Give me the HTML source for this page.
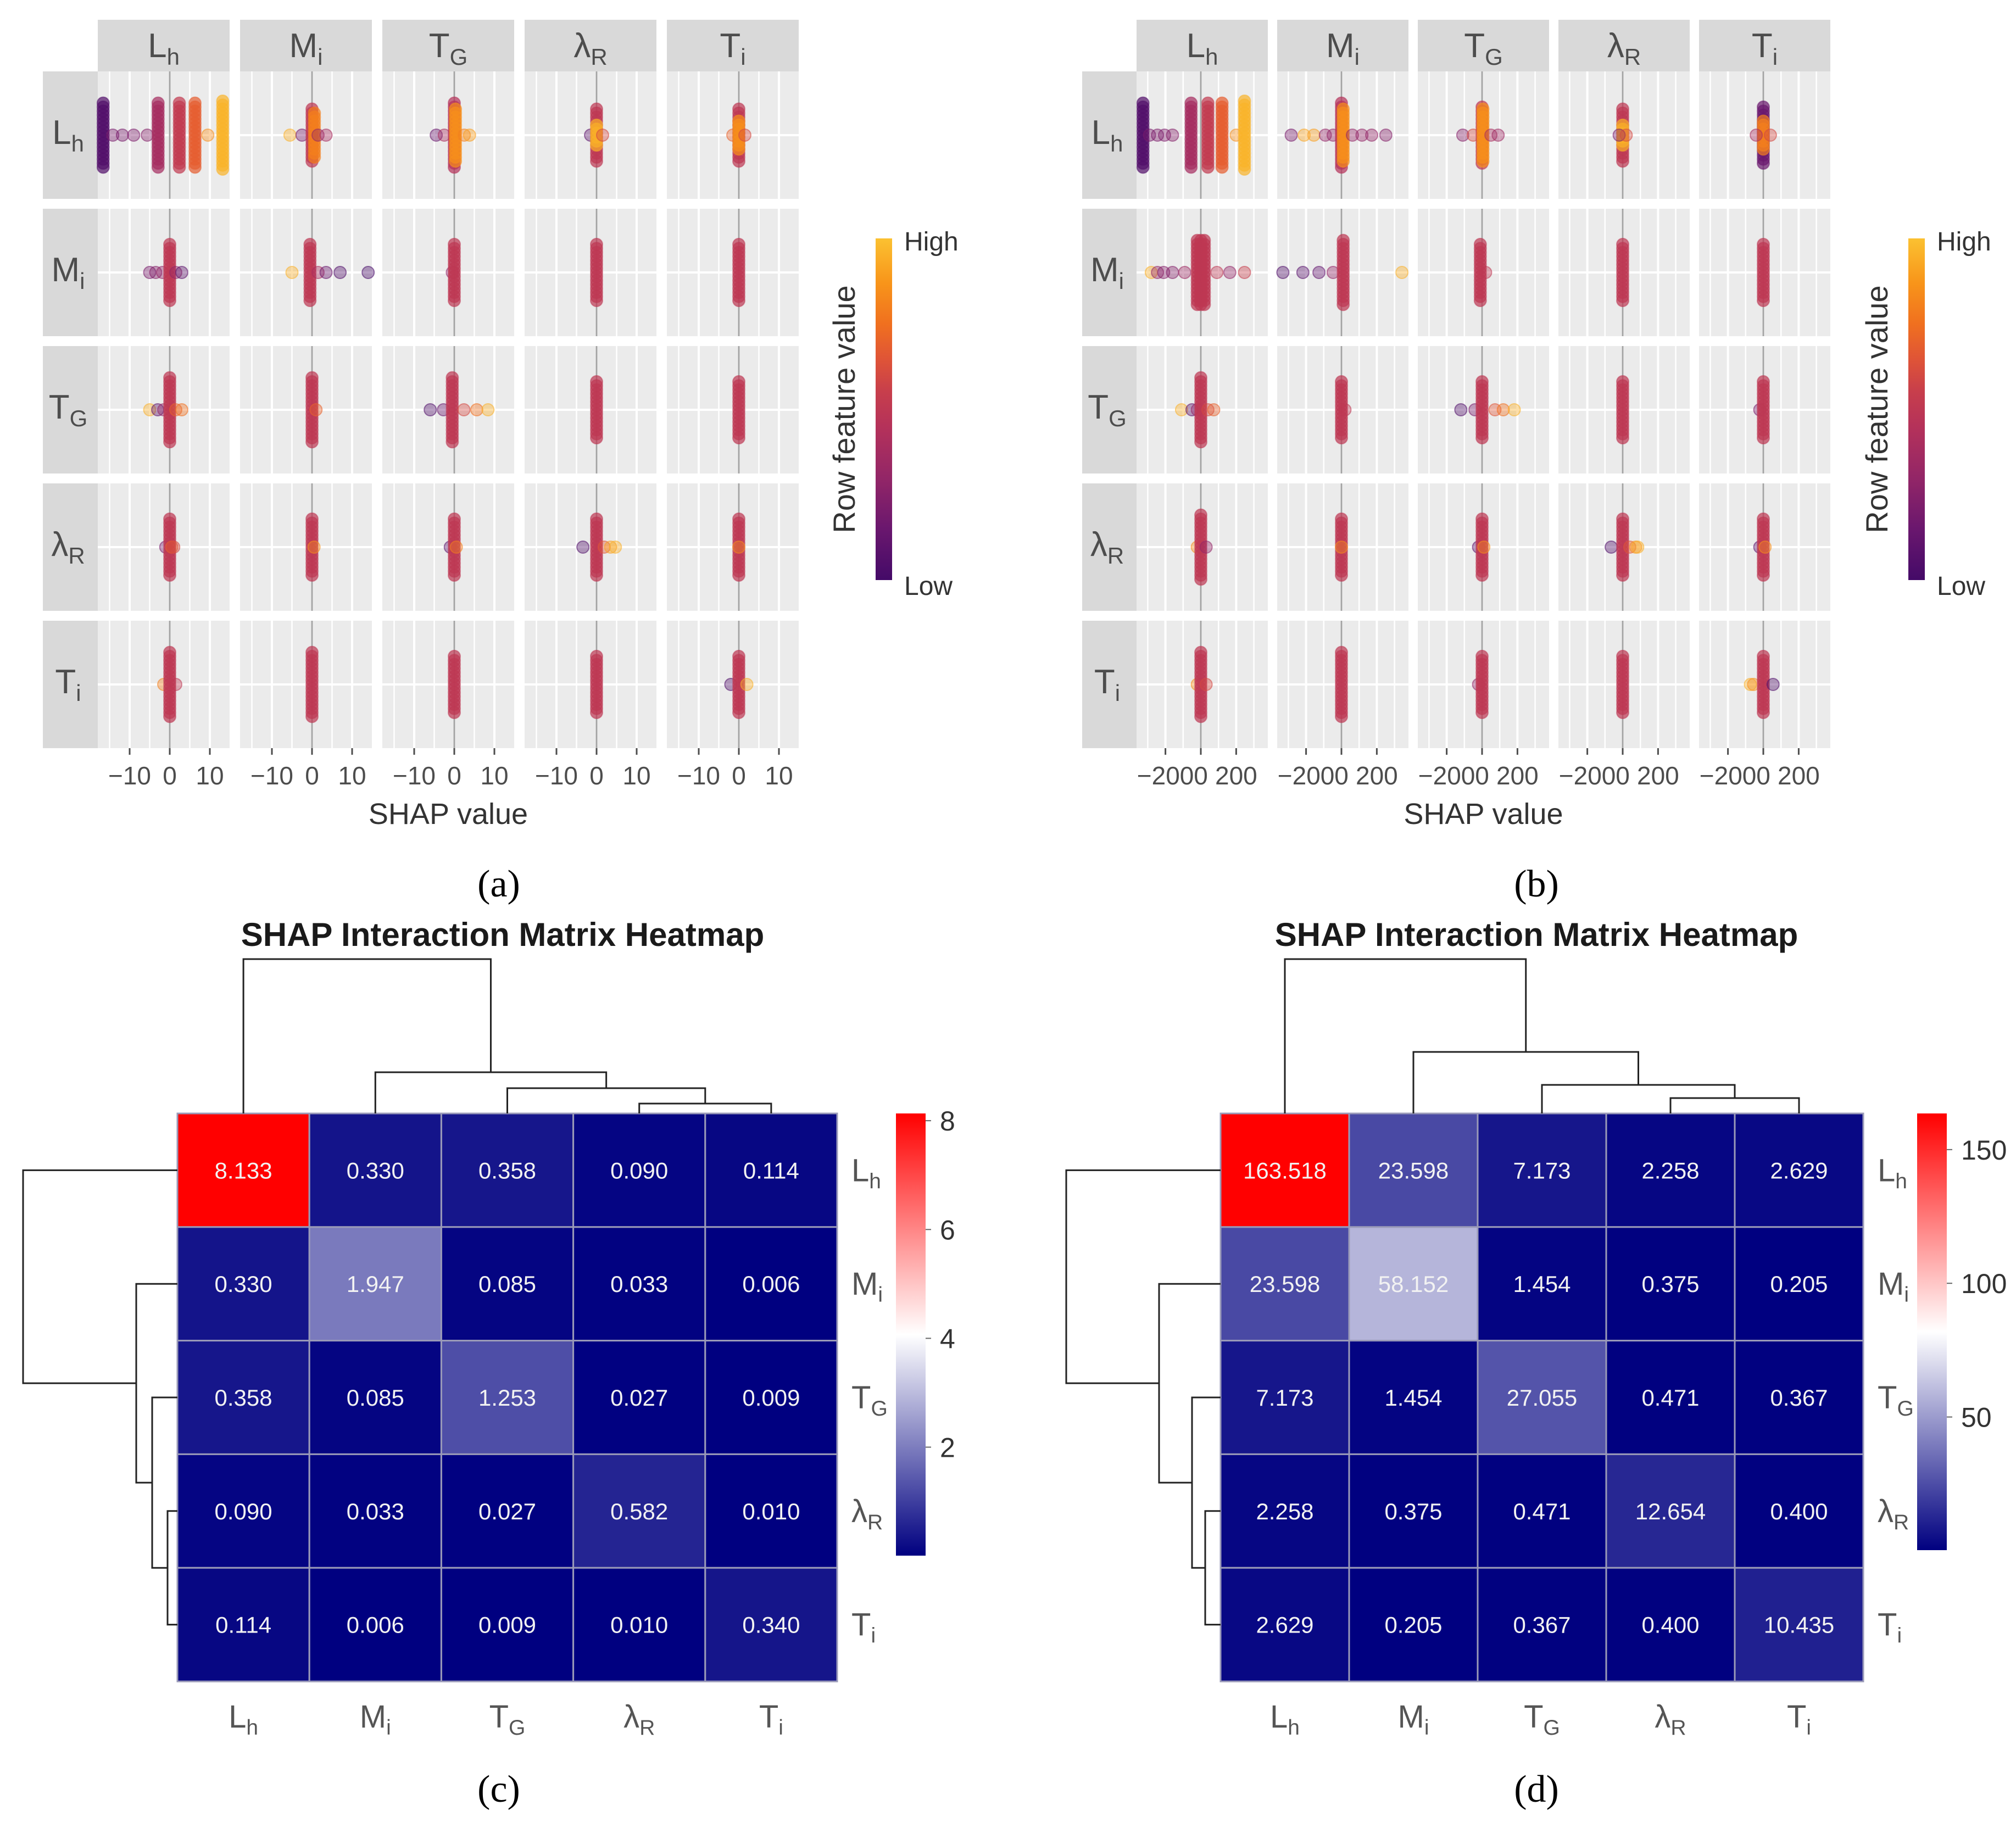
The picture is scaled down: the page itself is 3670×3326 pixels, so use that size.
<!DOCTYPE html>
<html><head><meta charset="utf-8"><title>SHAP interaction plots</title>
<style>
html,body{margin:0;padding:0;background:#fff;}
svg{display:block;font-family:"Liberation Sans",sans-serif;}
</style></head>
<body>
<svg id="fig" width="3670" height="3326" viewBox="0 0 3670 3326" xmlns="http://www.w3.org/2000/svg">
<defs>
<linearGradient id="infernoGrad" x1="0" y1="1" x2="0" y2="0">
<stop offset="0" stop-color="#440a68"/><stop offset="0.15" stop-color="#6a176e"/><stop offset="0.3" stop-color="#932667"/><stop offset="0.45" stop-color="#b5325a"/><stop offset="0.55" stop-color="#c73e4c"/><stop offset="0.65" stop-color="#e05536"/><stop offset="0.75" stop-color="#f0701f"/><stop offset="0.87" stop-color="#f8951a"/><stop offset="1" stop-color="#fbc131"/>
</linearGradient>
<linearGradient id="bwrGrad" x1="0" y1="1" x2="0" y2="0">
<stop offset="0" stop-color="#000080"/><stop offset="0.5" stop-color="#ffffff"/><stop offset="1" stop-color="#ff0000"/>
</linearGradient>
</defs>
<rect x="0" y="0" width="3670" height="3326" fill="#fff"/>
</svg>
<script>
// ---------- data ----------
const featMain = ['L','M','T','λ','T'];
const featSub = ['h','i','G','R','i'];
// beeswarm clusters per panel (row-major: row feature, column feature): [shap, featureValue(0..1), count]
const swarmA = [
 [[-16.6,0.05,11],[-14.2,0.2,1],[-11.8,0.2,1],[-9,0.22,1],[-5.6,0.25,1],[-2.9,0.38,11],[2.4,0.52,11],[6.3,0.68,11],[9.5,0.85,1],[13.2,0.96,12]],
 [[-5.5,0.95,1],[-2.5,0.2,1],[0,0.5,9],[0.6,0.8,8],[1.5,0.3,1],[3.5,0.4,1]],
 [[-4.5,0.15,1],[-2.5,0.4,1],[0,0.45,11],[0.3,0.85,9],[2.5,0.8,1],[3.8,0.9,1]],
 [[-1.5,0.1,1],[0,0.5,9],[0,0.95,4],[1.5,0.6,1]],
 [[-1.5,0.7,1],[0,0.5,9],[0,0.85,5],[1.5,0.6,1]],
 [[-5,0.2,1],[-3.5,0.25,1],[-1.8,0.3,1],[0,0.5,10],[1.5,0.3,1],[3,0.1,1]],
 [[-5,0.95,1],[-0.5,0.5,10],[1.5,0.4,1],[3.5,0.15,1],[7,0.05,1],[14,0.02,1]],
 [[-0.5,0.3,1],[0,0.5,10]],
 [[0,0.5,10]],
 [[0,0.5,10]],
 [[-5,0.95,1],[-3,0.1,1],[-1.5,0.3,1],[0,0.5,11],[1.5,0.7,1],[3,0.75,1]],
 [[0,0.5,11],[1,0.7,1]],
 [[-6,0.05,1],[-2.7,0.15,1],[-0.5,0.5,11],[2.4,0.6,1],[5.6,0.75,1],[8.4,0.95,1]],
 [[0,0.5,10]],
 [[0,0.5,10]],
 [[-1,0.2,1],[0,0.5,10],[0.5,0.7,1],[1,0.6,1]],
 [[0,0.5,10],[0.5,0.85,1]],
 [[-1,0.1,1],[0,0.5,10],[0.5,0.8,1]],
 [[-3.4,0.05,1],[0,0.5,10],[1.9,0.65,1],[3.5,0.9,1],[4.7,0.95,1]],
 [[0,0.5,10],[0,0.85,1]],
 [[-1.5,0.8,1],[0,0.5,11],[1.5,0.5,1]],
 [[0,0.5,11]],
 [[0,0.5,10]],
 [[0,0.5,10]],
 [[-2,0.05,1],[0,0.5,10],[2,0.95,1]]
];
const swarmB = [
 [[-327,0.05,11],[-290,0.2,1],[-245,0.22,1],[-205,0.22,1],[-160,0.25,1],[-55,0.38,11],[40,0.52,11],[120,0.68,11],[200,0.85,1],[247,0.96,12]],
 [[-284,0.2,1],[-211,0.92,1],[-156,0.9,1],[-91,0.3,1],[-47,0.3,1],[0,0.45,11],[10,0.85,9],[62,0.3,1],[116,0.3,1],[171,0.3,1],[251,0.25,1]],
 [[-109,0.25,1],[-50,0.6,1],[0,0.5,10],[5,0.85,9],[50,0.4,1],[91,0.35,1]],
 [[0,0.5,9],[0,0.95,4],[-20,0.2,1],[20,0.6,1]],
 [[0,0.15,10],[0,0.8,5],[-40,0.4,1],[40,0.6,1]],
 [[-280,0.95,1],[-245,0.3,1],[-210,0.25,1],[-160,0.25,1],[-91,0.35,1],[0,0.5,11],[-20,0.5,11],[20,0.5,11],[91,0.5,1],[164,0.3,1],[247,0.55,1]],
 [[-331,0.05,1],[-218,0.08,1],[-127,0.12,1],[-47,0.3,1],[10,0.5,11],[342,0.95,1]],
 [[-10,0.5,10],[20,0.5,1]],
 [[0,0.5,10]],
 [[0,0.5,10]],
 [[-109,0.95,1],[-50,0.1,1],[-20,0.3,1],[0,0.5,11],[40,0.6,1],[73,0.7,1]],
 [[0,0.5,10],[20,0.5,1]],
 [[-120,0.05,1],[-40,0.2,1],[0,0.5,10],[73,0.65,1],[120,0.75,1],[182,0.95,1]],
 [[0,0.5,10]],
 [[-20,0.2,1],[0,0.5,10]],
 [[-20,0.85,1],[0,0.5,11],[30,0.3,1]],
 [[0,0.5,10],[0,0.85,1]],
 [[-20,0.1,1],[0,0.5,10],[10,0.85,1]],
 [[-65,0.05,1],[0,0.5,10],[40,0.65,1],[73,0.85,1],[85,0.95,1]],
 [[-20,0.1,1],[0,0.5,10],[10,0.85,1]],
 [[-20,0.85,1],[0,0.5,11],[30,0.6,1]],
 [[0,0.5,11]],
 [[-20,0.3,1],[0,0.5,10]],
 [[0,0.5,10]],
 [[-73,0.95,1],[-55,0.85,1],[0,0.5,10],[55,0.05,1]]
];
const ticksA = [-10,0,10];
const tickLabelsA = ['−10','0','10'];
const gridA = [-15,-10,-5,0,5,10];
const ticksB = [-200,0,200];
const tickLabelsB = ['−200','0','200'];
const gridB = [-300,-200,-100,0,100,200,300];

const matC = [
 [8.133,0.330,0.358,0.090,0.114],
 [0.330,1.947,0.085,0.033,0.006],
 [0.358,0.085,1.253,0.027,0.009],
 [0.090,0.033,0.027,0.582,0.010],
 [0.114,0.006,0.009,0.010,0.340]
];
const matD = [
 [163.518,23.598,7.173,2.258,2.629],
 [23.598,58.152,1.454,0.375,0.205],
 [7.173,1.454,27.055,0.471,0.367],
 [2.258,0.375,0.471,12.654,0.400],
 [2.629,0.205,0.367,0.400,10.435]
];
const cbarTicksC = [2,4,6,8];
const cbarTicksD = [50,100,150];
// dendrogram merge heights: (λR,Ti), (TG,·), (Mi,·), (Lh,·)
const dendC = [18,46,75,281];
const dendD = [28,52,112,281];

// ---------- helpers ----------
const NS = 'http://www.w3.org/2000/svg';
const svg = document.getElementById('fig');
function mk(tag, attrs, parent){
  const e = document.createElementNS(NS, tag);
  for (const k in attrs) e.setAttribute(k, attrs[k]);
  (parent || svg).appendChild(e);
  return e;
}
function hex2rgb(h){return [parseInt(h.substr(1,2),16),parseInt(h.substr(3,2),16),parseInt(h.substr(5,2),16)];}
const infStops = [[0,'#440a68'],[0.15,'#6a176e'],[0.3,'#932667'],[0.45,'#b5325a'],[0.55,'#c73e4c'],[0.65,'#e05536'],[0.75,'#f0701f'],[0.87,'#f8951a'],[1,'#fbc131']];
function inferno(t){
  t = Math.max(0, Math.min(1, t));
  for (let i=1;i<infStops.length;i++){
    if (t <= infStops[i][0]){
      const a = infStops[i-1], b = infStops[i];
      const f = (t-a[0])/(b[0]-a[0]);
      const ca = hex2rgb(a[1]), cb = hex2rgb(b[1]);
      return 'rgb('+ca.map((v,j)=>Math.round(v+(cb[j]-v)*f)).join(',')+')';
    }
  }
  return infStops[infStops.length-1][1];
}
function bwr(t){
  t = Math.max(0, Math.min(1, t));
  let r,g,b;
  if (t < 0.5){ const f=t/0.5; r=255*f; g=255*f; b=128+127*f; }
  else { const f=(t-0.5)/0.5; r=255; g=255*(1-f); b=255*(1-f); }
  return 'rgb('+Math.round(r)+','+Math.round(g)+','+Math.round(b)+')';
}
function labelWithSub(parent, x, y, main, sub, size, fill, anchor){
  const t = mk('text', {x:x, y:y, 'font-size':size, fill:fill, 'text-anchor':anchor||'middle'}, parent);
  const a = mk('tspan', {}, t); a.textContent = main;
  const b = mk('tspan', {'font-size':Math.round(size*0.68), dy:Math.round(size*0.22)}, t); b.textContent = sub;
  return t;
}

// ---------- beeswarm facet panels ----------
function facet(cfg){
  const g = mk('g', {});
  
  
  const colX = i => cfg.x0 + i*cfg.step;
  const rowY = j => cfg.y0 + j*cfg.rowStep;
  const xs = (i, v) => colX(i) + cfg.zeroOff + v*cfg.pxPerUnit;
  for (let i=0;i<5;i++){
    const s = mk('g', {}, g);
    
    
    mk('rect', {x:colX(i), y:cfg.stripTop, width:cfg.colW, height:cfg.y0-cfg.stripTop, fill:'#d9d9d9'}, s);
    labelWithSub(s, colX(i)+cfg.colW/2, cfg.stripTop+68, featMain[i], featSub[i], 62, '#4d4d4d');
  }
  for (let j=0;j<5;j++){
    const s = mk('g', {}, g);
    
    
    mk('rect', {x:cfg.rowStripX, y:rowY(j), width:cfg.x0-cfg.rowStripX, height:cfg.rowH, fill:'#d9d9d9'}, s);
    labelWithSub(s, (cfg.rowStripX+cfg.x0)/2-4, rowY(j)+cfg.rowH/2+16, featMain[j], featSub[j], 62, '#4d4d4d');
  }
  for (let j=0;j<5;j++){
    for (let i=0;i<5;i++){
      const p = mk('g', {}, g);
      
      
      const px = colX(i), py = rowY(j), cy = py + cfg.rowH/2;
      mk('rect', {x:px, y:py, width:cfg.colW, height:cfg.rowH, fill:'#ebebeb'}, p);
      cfg.grid.forEach(v => {
        const x = xs(i, v);
        if (x > px+2 && x < px+cfg.colW-2)
          mk('line', {x1:x, x2:x, y1:py, y2:py+cfg.rowH, stroke:'#fff', 'stroke-width': (cfg.ticks.indexOf(v)>=0?4:2.5)}, p);
      });
      mk('line', {x1:px, x2:px+cfg.colW, y1:cy, y2:cy, stroke:'#fff', 'stroke-width':4}, p);
      mk('line', {x1:xs(i,0), x2:xs(i,0), y1:py, y2:py+cfg.rowH, stroke:'#a3a3a3', 'stroke-width':3}, p);
      const clusters = cfg.data[j*5+i];
      clusters.forEach(c => {
        const n = c[2];
        const col = inferno(c[1]);
        const m = n>1 ? Math.round(n*1.5) : 1;
        for (let k=0;k<m;k++){
          const y = cy + (k-(m-1)/2)*7.3;
          const dot = mk('circle', {cx:xs(i,c[0]), cy:y, r:11, fill:col, 'fill-opacity': n>1?0.7:0.4, stroke:col, 'stroke-opacity':n>1?0.5:0.55, 'stroke-width':2}, p);
          
          
        }
      });
    }
  }
  const yb = rowY(4)+cfg.rowH;
  for (let i=0;i<5;i++){
    cfg.ticks.forEach((v,k) => {
      const x = xs(i, v);
      mk('line', {x1:x, x2:x, y1:yb, y2:yb+12, stroke:'#4d4d4d', 'stroke-width':3}, g);
      const t = mk('text', {x:x, y:yb+66, 'font-size':46, fill:'#4d4d4d', 'text-anchor':'middle'}, g);
      t.textContent = cfg.tickLabels[k];
      
      
    });
  }
  const xt = mk('text', {x:(cfg.x0+colX(4)+cfg.colW)/2, y:yb+138, 'font-size':54, fill:'#333', 'text-anchor':'middle'}, g);
  xt.textContent = 'SHAP value';
  
  
  const lg = mk('g', {}, g);
  
  
  mk('rect', {x:cfg.cbX, y:434, width:30, height:622, fill:'url(#infernoGrad)'}, lg);
  const hi = mk('text', {x:cfg.cbX+52, y:456, 'font-size':48, fill:'#333'}, lg); hi.textContent = 'High';
  const lo = mk('text', {x:cfg.cbX+52, y:1083, 'font-size':48, fill:'#333'}, lg); lo.textContent = 'Low';
  const lt = mk('text', {x:0, y:0, 'font-size':56, fill:'#333', 'text-anchor':'middle', transform:'translate('+(cfg.cbX-38)+',745) rotate(-90)'}, lg);
  lt.textContent = 'Row feature value';
  
  
}

facet({name:'shap-dependence-panel-a', data:swarmA, x0:178, step:259, colW:240, rowStripX:78, y0:130, rowStep:250, rowH:232, stripTop:36,
  zeroOff:131, pxPerUnit:7.3, ticks:ticksA, tickLabels:tickLabelsA, grid:gridA, cbX:1594});
facet({name:'shap-dependence-panel-b', data:swarmB, x0:2069, step:256, colW:239, rowStripX:1970, y0:130, rowStep:250, rowH:232, stripTop:36,
  zeroOff:117, pxPerUnit:0.322, ticks:ticksB, tickLabels:tickLabelsB, grid:gridB, cbX:3474});

// ---------- heatmaps ----------
function heatmap(cfg){
  const g = mk('g', {});
  
  
  const flat = cfg.mat.flat();
  const vmin = Math.min(...flat), vmax = Math.max(...flat);
  const norm = v => (v - vmin)/(vmax - vmin);
  const cw = cfg.w/5, ch = cfg.h/5;
  const title = mk('text', {x:cfg.titleX, y:1722, 'font-size':60, 'font-weight':'bold', fill:'#1a1a1a', 'text-anchor':'middle'}, g);
  title.textContent = 'SHAP Interaction Matrix Heatmap';
  
  
  for (let r=0;r<5;r++){
    for (let c=0;c<5;c++){
      const v = cfg.mat[r][c];
      const cell = mk('rect', {x:cfg.x+c*cw, y:cfg.y+r*ch, width:cw, height:ch, fill:bwr(norm(v)), stroke:'#9a9ab8', 'stroke-width':3}, g);
      
      
      const t = mk('text', {x:cfg.x+(c+0.5)*cw, y:cfg.y+(r+0.5)*ch+15, 'font-size':42, fill:'#f2f2f2', 'text-anchor':'middle'}, g);
      t.textContent = v.toFixed(3);
      
      
    }
  }
  for (let i=0;i<5;i++){
    const rl = labelWithSub(g, cfg.x+cfg.w+26, cfg.y+(i+0.5)*ch+20, featMain[i], featSub[i], 58, '#555', 'start');
    
    
    const cl = labelWithSub(g, cfg.x+(i+0.5)*cw, cfg.y+cfg.h+84, featMain[i], featSub[i], 58, '#555', 'middle');
    
    
  }
  const cb = mk('g', {}, g);
  
  
  mk('rect', {x:cfg.cbX, y:cfg.y, width:54, height:cfg.cbH, fill:'url(#bwrGrad)'}, cb);
  cfg.cbTicks.forEach(v => {
    const y = cfg.y + cfg.cbH - norm(v)*cfg.cbH;
    mk('line', {x1:cfg.cbX+54, x2:cfg.cbX+64, y1:y, y2:y, stroke:'#666', 'stroke-width':2}, cb);
    const t = mk('text', {x:cfg.cbX+80, y:y+18, 'font-size':50, fill:'#333'}, cb);
    t.textContent = String(v);
  });
  const hmax = Math.max(...cfg.dend);
  const hs = v => v/hmax*281;
  const cx = i => cfg.x+(i+0.5)*cw;
  const cy = i => cfg.y+(i+0.5)*ch;
  const st = {stroke:'#222', 'stroke-width':3, fill:'none'};
  const dg = mk('g', {}, g);
  
  
  const lg = mk('g', {}, g);
  
  
  let posR = cx(4), hPrevR = 0, posRy = cy(4);
  const leftLeaves = [3,2,1,0];
  for (let m=0;m<4;m++){
    const h = hs(cfg.dend[m]);
    const li = leftLeaves[m];
    const lx = cx(li), ly = cy(li);
    const rx = m===0 ? cx(4) : posR;
    const ry = m===0 ? cy(4) : posRy;
    const rh = m===0 ? 0 : hPrevR;
    mk('path', Object.assign({d:'M'+lx+' '+cfg.y+' V'+(cfg.y-h)+' H'+rx+' V'+(cfg.y-rh)}, st), dg);
    mk('path', Object.assign({d:'M'+cfg.x+' '+ly+' H'+(cfg.x-h)+' V'+ry+' H'+(cfg.x-rh)}, st), lg);
    posR = (lx+rx)/2; posRy = (ly+ry)/2; hPrevR = h;
  }
}
heatmap({name:'heatmap-c', mat:matC, x:323, y:2027, w:1201, h:1034, cbX:1631, cbH:805, cbTicks:cbarTicksC, dend:dendC, titleX:915});
heatmap({name:'heatmap-d', mat:matD, x:2222, y:2027, w:1170, h:1034, cbX:3490, cbH:795, cbTicks:cbarTicksD, dend:dendD, titleX:2797});

// ---------- captions ----------
[['(a)',908,1632],['(b)',2797,1632],['(c)',908,3280],['(d)',2797,3280]].forEach(c => {
  const t = mk('text', {x:c[1], y:c[2], 'font-size':70, fill:'#000', 'text-anchor':'middle', 'font-family':'"Liberation Serif", serif'});
  t.textContent = c[0];
  
  
});
</script>
</body></html>
